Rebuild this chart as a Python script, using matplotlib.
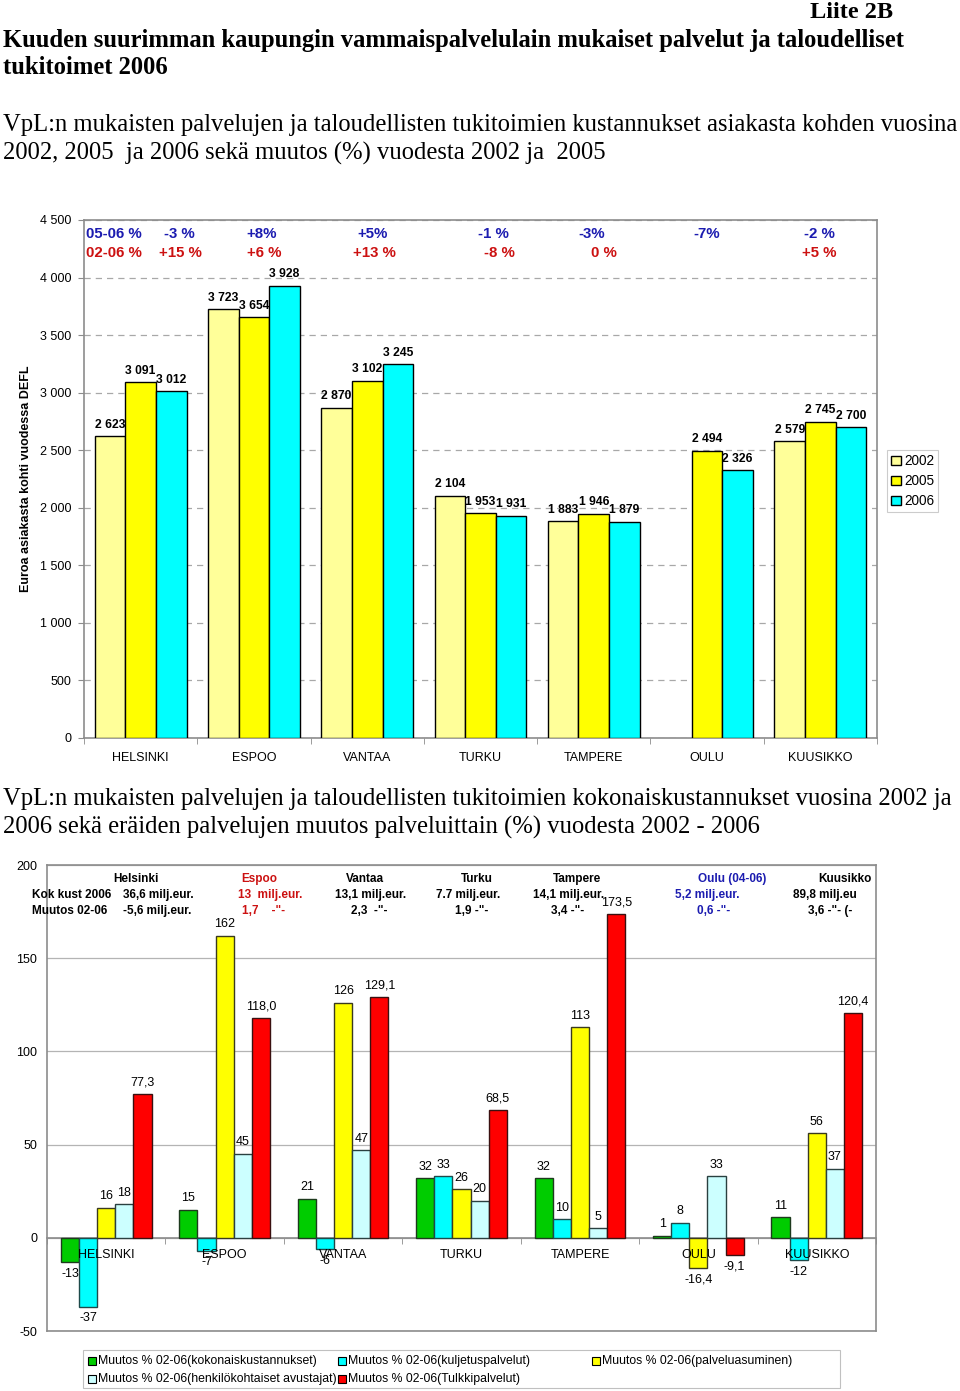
import matplotlib
matplotlib.use("Agg")
import matplotlib.pyplot as plt
import matplotlib.patches as patches
from matplotlib.ticker import FuncFormatter, FixedLocator
import numpy as np

plt.rcParams['font.family'] = ['Liberation Sans', 'DejaVu Sans']
plt.rcParams['axes.unicode_minus'] = False

# ---- top chart data ----
cities = ["HELSINKI", "ESPOO", "VANTAA", "TURKU", "TAMPERE", "OULU", "KUUSIKKO"]
years = ["2002", "2005", "2006"]
cost_2002 = [2623, 3723, 2870, 2104, 1883, np.nan, 2579]
cost_2005 = [3091, 3654, 3102, 1953, 1946, 2494, 2745]
cost_2006 = [3012, 3928, 3245, 1931, 1879, 2326, 2700]
chg_05_06 = ["-3 %", "+8%", "+5%", "-1 %", "-3%", "-7%", "-2 %"]
chg_05_06_x = [0.34, 1.07, 2.05, 3.11, 3.98, 5.0, 5.99]
chg_02_06 = ["+15 %", "+6 %", "+13 %", "-8 %", "0 %", "", "+5 %"]
chg_02_06_x = [0.35, 1.09, 2.06, 3.17, 4.09, 5.0, 5.99]

# ---- bottom chart data ----
series_names = ["Muutos % 02-06(kokonaiskustannukset)",
                "Muutos % 02-06(kuljetuspalvelut)",
                "Muutos % 02-06(palveluasuminen)",
                "Muutos % 02-06(henkilökohtaiset avustajat)",
                "Muutos % 02-06(Tulkkipalvelut)"]
kokonais = [-13, 15, 21, 32, 32, 1, 11]
kuljetus = [-37, -7, -6, 33, 10, 8, -12]
palveluasuminen = [16, 162, 126, 26, 113, -16.4, 56]
avustajat = [18, 45, 47, 20, 5, 33, 37]
tulkki = [77.3, 118.0, 129.1, 68.5, 173.5, -9.1, 120.4]

head_names = ["Helsinki", "Espoo", "Vantaa", "Turku", "Tampere", "Oulu (04-06)", "Kuusikko"]
head_kok = ["36,6 milj.eur.", "13  milj.eur.", "13,1 milj.eur.", "7.7 milj.eur.",
            "14,1 milj.eur.", "5,2 milj.eur.", "89,8 milj.eu"]
head_muutos = ["-5,6 milj.eur.", "1,7    -\"-", "2,3  -\"-", "1,9 -\"-",
               "3,4 -\"-", "0,6 -\"-", "3,6 -\"- (-"]
head_colors = ["black", "#cc1111", "black", "black", "black", "#1c1cb0", "black"]
head_name_x = [0.25, 1.29, 2.185, 3.13, 3.975, 5.284, 6.238]
head_kok_x = [0.142, 1.113, 1.93, 2.785, 3.604, 4.80, 5.80]
head_muutos_x = [0.142, 1.147, 2.067, 2.945, 3.756, 4.99, 5.93]

BLUE = "#1c1cb0"
RED = "#cc1111"
GRAY = "#8c8c8c"

fig = plt.figure(figsize=(9.6, 13.91), dpi=100)

def fy(py):
    return 1 - py / 1391.0

def fx(px):
    return px / 960.0

serif = ['Liberation Serif', 'DejaVu Serif']
fig.text(fx(893), fy(12), "Liite 2B", family=serif, fontsize=17.5, weight="bold",
         ha="right", va="center")
fig.text(fx(3), fy(40), "Kuuden suurimman kaupungin vammaispalvelulain mukaiset palvelut ja taloudelliset",
         family=serif, fontsize=17.7, weight="bold", ha="left", va="center")
fig.text(fx(3), fy(68), "tukitoimet 2006", family=serif, fontsize=17.7, weight="bold",
         ha="left", va="center")
fig.text(fx(3), fy(125), "VpL:n mukaisten palvelujen ja taloudellisten tukitoimien kustannukset asiakasta kohden vuosina",
         family=serif, fontsize=17.7, ha="left", va="center")
fig.text(fx(3), fy(153), "2002, 2005  ja 2006 sekä muutos (%) vuodesta 2002 ja  2005",
         family=serif, fontsize=17.7, ha="left", va="center")
fig.text(fx(3), fy(799), "VpL:n mukaisten palvelujen ja taloudellisten tukitoimien kokonaiskustannukset vuosina 2002 ja",
         family=serif, fontsize=17.7, ha="left", va="center")
fig.text(fx(3), fy(827), "2006 sekä eräiden palvelujen muutos palveluittain (%) vuodesta 2002 - 2006",
         family=serif, fontsize=17.7, ha="left", va="center")

# ================= top chart =================
ax1 = fig.add_axes([fx(84), fy(738), fx(877) - fx(84), fy(220) - fy(738)])
x = np.arange(len(cities))
w = 0.27
top_colors = ["#FFFF99", "#FFFF00", "#00FFFF"]
for k, (vals, col) in enumerate(zip([cost_2002, cost_2005, cost_2006], top_colors)):
    pos = x + (k - 1) * w
    ax1.bar(pos, vals, w, color=col, edgecolor="black", linewidth=1.0,
            label=years[k], zorder=3)
    for xp, v in zip(pos, vals):
        if np.isnan(v):
            continue
        ax1.annotate(f"{v:,.0f}".replace(",", " "), (xp, v), xytext=(0, 4),
                     textcoords="offset points", ha="center", va="bottom",
                     fontsize=8.7, weight="bold", zorder=5)

ax1.set_xlim(-0.5, len(cities) - 0.5)
ax1.set_ylim(0, 4500)
ax1.set_yticks(np.arange(0, 4501, 500))
ax1.yaxis.set_major_formatter(FuncFormatter(lambda v, p: f"{v:,.0f}".replace(",", " ")))
ax1.grid(axis="y", color="#a8a8a8", linestyle=(0, (5, 4)), linewidth=0.9, zorder=0)
ax1.set_xticks(x)
ax1.set_xticklabels(cities)
ax1.xaxis.set_minor_locator(FixedLocator(np.arange(-0.5, len(cities), 1.0)))
ax1.tick_params(axis="x", which="major", length=0, pad=10, labelsize=9)
ax1.tick_params(axis="x", which="minor", length=4, color=GRAY)
ax1.tick_params(axis="y", length=4, color=GRAY, labelsize=9, pad=5)
for s in ax1.spines.values():
    s.set_color(GRAY)
    s.set_linewidth(1.2)
ax1.set_ylabel("Euroa asiakasta kohti vuodessa DEFL", fontsize=9, weight="bold", labelpad=6)

ax1.text(-0.48, 4375, "05-06 %", color=BLUE, fontsize=10.8, weight="bold", ha="left", va="center")
ax1.text(-0.48, 4210, "02-06 %", color=RED, fontsize=10.8, weight="bold", ha="left", va="center")
for lbl, xp in zip(chg_05_06, chg_05_06_x):
    ax1.text(xp, 4375, lbl, color=BLUE, fontsize=10.8, weight="bold", ha="center", va="center")
for lbl, xp in zip(chg_02_06, chg_02_06_x):
    ax1.text(xp, 4210, lbl, color=RED, fontsize=10.8, weight="bold", ha="center", va="center")

leg1 = ax1.legend(loc="upper left", bbox_to_anchor=(fx(887), fy(450)),
                  bbox_transform=fig.transFigure, fontsize=9.8, frameon=True,
                  fancybox=False, edgecolor="#c0c0c0", handlelength=0.7,
                  handleheight=0.7, handletextpad=0.25, borderpad=0.3,
                  labelspacing=0.45, borderaxespad=0)
leg1.get_frame().set_linewidth(0.8)

# ================= bottom chart =================
ax2 = fig.add_axes([fx(47), fy(1331), fx(876) - fx(47), fy(865) - fy(1331)])
bw = 0.153
bot_colors = ["#00CC00", "#00FFFF", "#FFFF00", "#CCFFFF", "#FF0000"]
bot_edges = ["#1e3a1e", "#1e4a4a", "#3a3a1e", "#2a4040", "#3a1010"]
series = [kokonais, kuljetus, palveluasuminen, avustajat, tulkki]
for k, vals in enumerate(series):
    pos = x + (k - 2) * bw
    ax2.bar(pos, vals, bw, color=bot_colors[k], edgecolor=bot_edges[k], linewidth=1.0,
            label=series_names[k], zorder=3)
    for xp, v in zip(pos, vals):
        if k == 4 or v != int(v):
            s = f"{v:.1f}".replace(".", ",")
        else:
            s = f"{int(v)}"
        if v >= 0:
            ax2.annotate(s, (xp, v), xytext=(0, 4), textcoords="offset points",
                         ha="center", va="bottom", fontsize=9, zorder=5)
        else:
            ax2.annotate(s, (xp, v), xytext=(0, -4), textcoords="offset points",
                         ha="center", va="top", fontsize=9, zorder=5)

ax2.set_xlim(-0.5, len(cities) - 0.5)
ax2.set_ylim(-50, 200)
ax2.set_yticks([-50, 0, 50, 100, 150, 200])
ax2.grid(axis="y", color="#b4b4b4", linestyle="-", linewidth=0.9, zorder=0)
ax2.set_xticks(x)
ax2.set_xticklabels([])
ax2.xaxis.set_minor_locator(FixedLocator(np.arange(-0.5, len(cities), 1.0)))
ax2.spines["bottom"].set_position(("data", 0))
ax2.tick_params(axis="x", which="major", length=0)
ax2.tick_params(axis="x", which="minor", length=4, color=GRAY)
ax2.tick_params(axis="y", length=0, labelsize=9, pad=7)
for s in ax2.spines.values():
    s.set_color(GRAY)
    s.set_linewidth(1.2)
ax2.axhline(-50, color=GRAY, linewidth=1.2, clip_on=False, zorder=4)
# category names sit on top of the bars, as in the original
for xi, name in zip(x, cities):
    ax2.annotate(name, (xi, 0), xytext=(0, -12.5), textcoords="offset points",
                 ha="center", va="center", fontsize=9, zorder=6)

ax2.text(-0.627, 184, "Kok kust 2006", fontsize=8.5, weight="bold", ha="left", va="center")
ax2.text(-0.627, 175.5, "Muutos 02-06", fontsize=8.5, weight="bold", ha="left", va="center")
for k in range(len(head_names)):
    c = head_colors[k]
    ax2.text(head_name_x[k], 192.5, head_names[k], color=c, fontsize=8.5, weight="bold",
             ha="center", va="center")
    ax2.text(head_kok_x[k], 184, head_kok[k], color=c, fontsize=8.5, weight="bold",
             ha="left", va="center")
    ax2.text(head_muutos_x[k], 175.5, head_muutos[k], color=c, fontsize=8.5, weight="bold",
             ha="left", va="center")

# bottom legend, laid out like the original (3 columns, 2 rows)
leg_box = patches.Rectangle((fx(83), fy(1388)), fx(840) - fx(83), fy(1350) - fy(1388),
                            transform=fig.transFigure, facecolor="white",
                            edgecolor="#c0c0c0", linewidth=0.8)
fig.patches.append(leg_box)
leg_cols = [88, 338, 592, 88, 338]
leg_rows = [1361, 1361, 1361, 1379, 1379]
for k, name in enumerate(series_names):
    px, py = leg_cols[k], leg_rows[k]
    sq = patches.Rectangle((fx(px), fy(py + 4)), fx(8), 8 / 1391.0,
                           transform=fig.transFigure, facecolor=bot_colors[k],
                           edgecolor="black", linewidth=0.8)
    fig.patches.append(sq)
    fig.text(fx(px + 10), fy(py), name, fontsize=8.8, ha="left", va="center")

fig.savefig("out.png", dpi=100)
